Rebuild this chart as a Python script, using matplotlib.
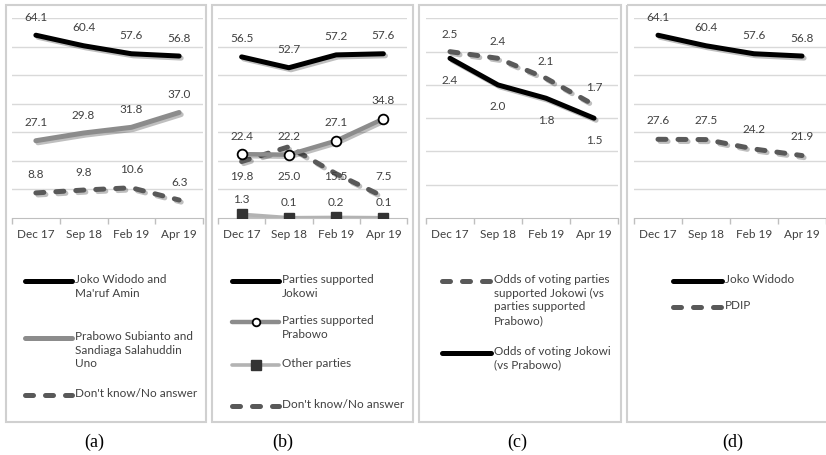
import numpy as np
import matplotlib
matplotlib.use("Agg")
import matplotlib.pyplot as plt
import matplotlib.patheffects as pe
from matplotlib.patches import Rectangle

plt.rcParams['font.family'] = ['Lato', 'DejaVu Sans']

W, H = 826, 456
MONTHS = ["Dec 17", "Sep 18", "Feb 19", "Apr 19"]

# (a) presidential candidates
jokowi_amin = [64.1, 60.4, 57.6, 56.8]
prabowo_uno = [27.1, 29.8, 31.8, 37.0]
dont_know_a = [8.8, 9.8, 10.6, 6.3]

# (b) parties
parties_jokowi = [56.5, 52.7, 57.2, 57.6]
parties_prabowo = [22.4, 22.2, 27.1, 34.8]
other_parties = [1.3, 0.1, 0.2, 0.1]
dont_know_b = [19.8, 25.0, 15.5, 7.5]

# (c) odds
odds_parties_jokowi = [2.5, 2.4, 2.1, 1.7]
odds_jokowi = [2.4, 2.0, 1.8, 1.5]

# (d) candidate vs party
jokowi = [64.1, 60.4, 57.6, 56.8]
pdip = [27.6, 27.5, 24.2, 21.9]

TXT = '#404040'
FS = 8.5
shadow = [pe.SimpleLineShadow(offset=(1.5, -1.5), shadow_color='black', alpha=0.25), pe.Normal()]

BLACK = dict(color='black', lw=3.6, solid_capstyle='round')
GRAY = dict(color='#8c8c8c', lw=3.6, solid_capstyle='round')
LIGHT = dict(color='#b3b3b3', lw=2.6, solid_capstyle='round')
DASH = dict(color='#595959', lw=3.6, ls=(0, (1.6, 2.4)), dash_capstyle='round')
CIRC = dict(marker='o', ms=7, mfc='white', mec='black', mew=1.3)
SQR = dict(marker='s', ms=6.5, mfc='#333333', mec='#333333')

fig = plt.figure(figsize=(W / 100, H / 100), dpi=100)

# background layer in pixel coordinates: boxes, legends, captions
bg = fig.add_axes([0, 0, 1, 1])
bg.set_xlim(0, W)
bg.set_ylim(H, 0)
bg.axis('off')


def panel(x0, x1, ymax, step):
    ax = fig.add_axes([x0 / W, 1 - 219 / H, (x1 - x0) / W, 200 / H])
    ax.set_facecolor('none')
    ax.set_xlim(-0.5, 3.5)
    ax.set_ylim(0, ymax * 1.002)
    ax.set_yticks(np.arange(step, ymax + step / 2, step))
    ax.grid(axis='y', color='#d9d9d9', lw=1)
    ax.set_axisbelow(True)
    ax.tick_params(axis='y', left=False, labelleft=False)
    ax.set_xticks(range(4), MONTHS)
    ax.set_xticks(np.arange(-0.5, 4, 1), minor=True)
    ax.tick_params(axis='x', which='major', length=0, pad=7.5, labelsize=FS, labelcolor=TXT)
    ax.tick_params(axis='x', which='minor', length=4, color='#bfbfbf', width=1)
    for s in ['top', 'right', 'left']:
        ax.spines[s].set_visible(False)
    ax.spines['bottom'].set_color('#bfbfbf')
    return ax


def series(ax, vals, style, dy, marker=None):
    x = np.arange(len(vals))
    ax.plot(x, vals, **style, path_effects=shadow, zorder=3)
    if marker:
        ax.plot(x, vals, ls='none', **marker, zorder=4)
    if np.isscalar(dy):
        dy = [dy] * len(vals)
    for xi, v, d in zip(x, vals, dy):
        ax.annotate(f"{v:.1f}", (xi, v), xytext=(0, d), textcoords='offset pixels',
                    ha='center', va='center', fontsize=FS, color=TXT)


def key(x0, x1, y, text, style, marker=None, ms=None):
    bg.plot([x0, x1], [y, y], **style)
    if marker:
        bg.plot([(x0 + x1) / 2], [y], ls='none', **dict(marker, ms=ms or marker['ms']))
    # first text line centred on the key line
    bg.text(x1 + 3, y - 8, text, ha='left', va='top', fontsize=FS,
            color=TXT, linespacing=1.3)


# panel boxes
for bx, bw in [(6, 200), (212, 201), (419, 202), (627, 210)]:
    bg.add_patch(Rectangle((bx, 6), bw, 417, fill=False, ec='#d0d0d0', lw=1.5))

# (a)
ax = panel(12, 203, 70, 10)
series(ax, jokowi_amin, BLACK, 19)
series(ax, prabowo_uno, GRAY, 19)
series(ax, dont_know_a, DASH, 19)
key(25, 72, 282, "Joko Widodo and\nMa'ruf Amin", BLACK)
key(25, 72, 339, "Prabowo Subianto and\nSandiaga Salahuddin\nUno", GRAY)
key(25, 72, 396, "Don't know/No answer", DASH)

# (b)
ax = panel(218, 407, 70, 10)
series(ax, parties_jokowi, BLACK, 19)
series(ax, dont_know_b, DASH, [-14, -29, -2, 21])
series(ax, parties_prabowo, dict(GRAY, lw=3.2), 19, CIRC)
series(ax, other_parties, LIGHT, 16, SQR)
key(232, 279, 282, "Parties supported\nJokowi", BLACK)
key(232, 279, 323, "Parties supported\nPrabowo", dict(GRAY, lw=3.2), CIRC, ms=5.5)
key(232, 279, 366, "Other parties", LIGHT, SQR)
key(232, 279, 407, "Don't know/No answer", DASH)

# (c)
ax = panel(426, 618, 3, 0.5)
series(ax, odds_parties_jokowi, DASH, 18)
series(ax, odds_jokowi, BLACK, -21)
key(442, 491, 282, "Odds of voting parties\nsupported Jokowi (vs\nparties supported\nPrabowo)", DASH)
key(442, 491, 354, "Odds of voting Jokowi\n(vs Prabowo)", BLACK)

# (d)
ax = panel(634, 826, 70, 10)
series(ax, jokowi, BLACK, 19)
series(ax, pdip, DASH, 20)
key(673, 722, 282, "Joko Widodo", BLACK)
key(673, 722, 308, "PDIP", DASH)

for cx, lab in [(94, '(a)'), (283, '(b)'), (517, '(c)'), (733, '(d)')]:
    bg.text(cx, 442, lab, ha='center', va='center', fontsize=13,
            family='Liberation Serif', color='black')

fig.savefig('out.png', dpi=100)
